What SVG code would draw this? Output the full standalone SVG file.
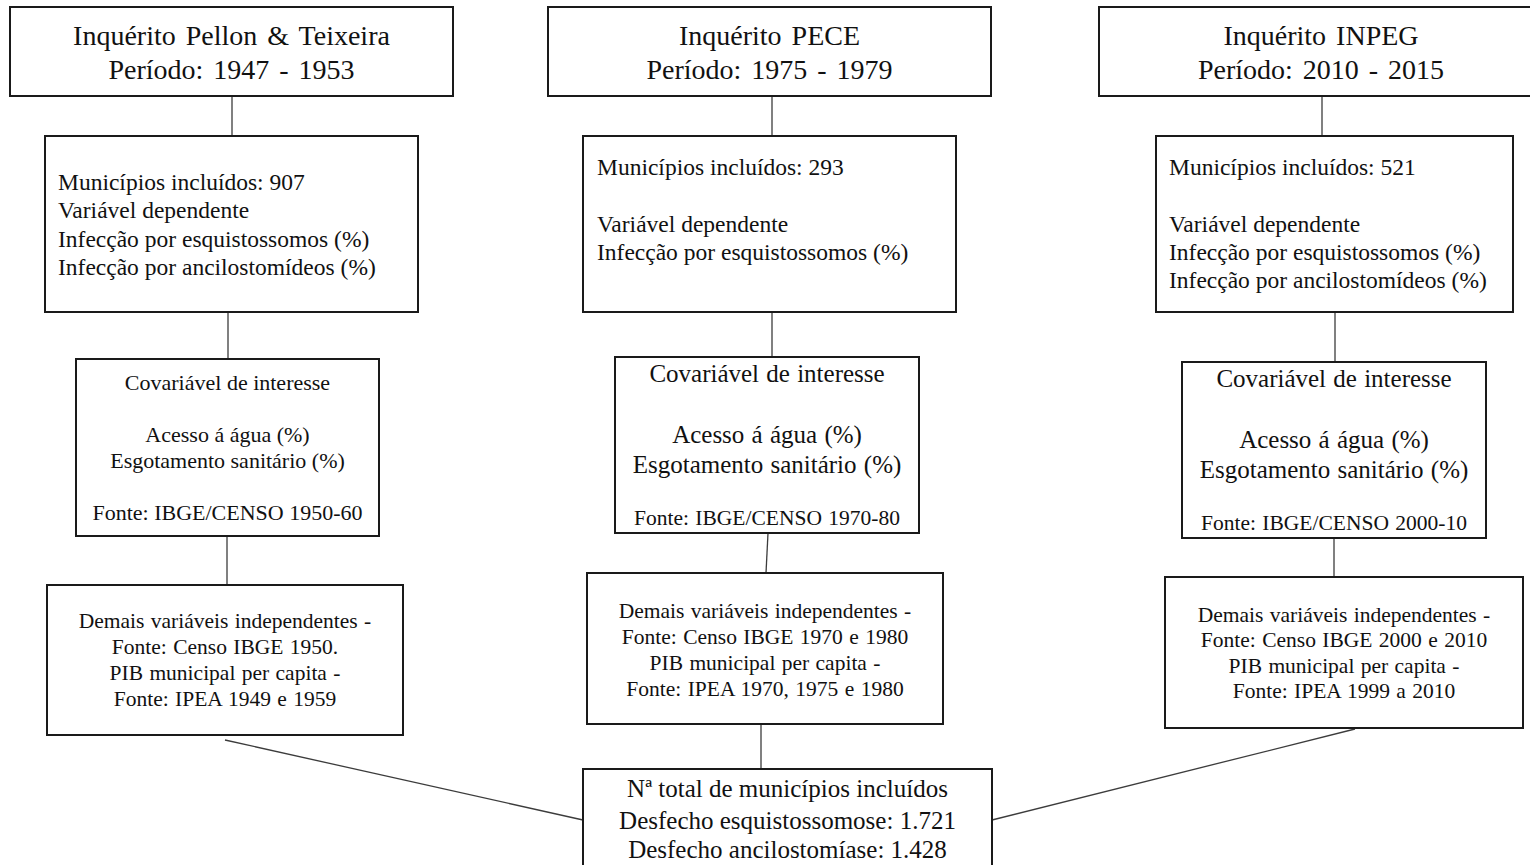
<svg xmlns="http://www.w3.org/2000/svg" width="1530" height="865" viewBox="0 0 1530 865">
  <style>
    .box { fill: #ffffff; stroke: #1a1a1a; stroke-width: 2; }
    .link { stroke: #3c3c3c; stroke-width: 1.3; fill: none; }
    text { font-family: "Liberation Serif", "Times New Roman", serif; fill: #111111; }
    .title { font-size: 28px; text-anchor: middle; word-spacing: 3px; }
    .dep { font-size: 23.5px; }
    .cov1 { font-size: 22px; text-anchor: middle; }
    .cov { font-size: 25px; text-anchor: middle; word-spacing: 1px; }
    .ind { font-size: 21.5px; text-anchor: middle; word-spacing: 1px; }
    .total { font-size: 25px; text-anchor: middle; }
  </style>
  <rect width="1530" height="865" fill="#ffffff"/>

  <!-- connectors -->
  <g id="connectors">
    <line class="link" x1="232" y1="96" x2="232" y2="136"/>
    <line class="link" x1="228" y1="312" x2="228" y2="359"/>
    <line class="link" x1="227" y1="536" x2="227" y2="585"/>
    <line class="link" x1="772" y1="96" x2="772" y2="136"/>
    <line class="link" x1="772" y1="312" x2="772" y2="357"/>
    <line class="link" x1="768" y1="533" x2="766" y2="573"/>
    <line class="link" x1="1322" y1="96" x2="1322" y2="136"/>
    <line class="link" x1="1335" y1="312" x2="1335" y2="362"/>
    <line class="link" x1="1334" y1="538" x2="1334" y2="577"/>
    <line class="link" x1="761" y1="724" x2="761" y2="769"/>
    <line class="link" x1="225" y1="740" x2="583" y2="820"/>
    <line class="link" x1="1355" y1="729" x2="992" y2="820"/>
  </g>

  <!-- survey 1: Pellon & Teixeira -->
  <g id="survey-pellon">
    <rect class="box" x="10" y="7" width="443" height="89"/>
    <text class="title" x="231.5" y="45">Inquérito Pellon &amp; Teixeira</text>
    <text class="title" x="231.5" y="79">Período: 1947 - 1953</text>
  </g>
  <g id="dep-pellon">
    <rect class="box" x="45" y="136" width="373" height="176"/>
    <text class="dep" x="58" y="190">Municípios incluídos: 907</text>
    <text class="dep" x="58" y="218">Variável dependente</text>
    <text class="dep" x="58" y="247">Infecção por esquistossomos (%)</text>
    <text class="dep" x="58" y="275">Infecção por ancilostomídeos (%)</text>
  </g>
  <g id="cov-pellon">
    <rect class="box" x="76" y="359" width="303" height="177"/>
    <text class="cov1" x="227.5" y="390">Covariável de interesse</text>
    <text class="cov1" x="227.5" y="442">Acesso á água (%)</text>
    <text class="cov1" x="227.5" y="468">Esgotamento sanitário (%)</text>
    <text class="cov1" x="227.5" y="520">Fonte: IBGE/CENSO 1950-60</text>
  </g>
  <g id="ind-pellon">
    <rect class="box" x="47" y="585" width="356" height="150"/>
    <text class="ind" x="225" y="628">Demais variáveis independentes -</text>
    <text class="ind" x="225" y="654">Fonte: Censo IBGE 1950.</text>
    <text class="ind" x="225" y="680">PIB municipal per capita -</text>
    <text class="ind" x="225" y="706">Fonte: IPEA 1949 e 1959</text>
  </g>

  <!-- survey 2: PECE -->
  <g id="survey-pece">
    <rect class="box" x="548" y="7" width="443" height="89"/>
    <text class="title" x="769.5" y="45">Inquérito PECE</text>
    <text class="title" x="769.5" y="79">Período: 1975 - 1979</text>
  </g>
  <g id="dep-pece">
    <rect class="box" x="583" y="136" width="373" height="176"/>
    <text class="dep" x="597" y="175">Municípios incluídos: 293</text>
    <text class="dep" x="597" y="232">Variável dependente</text>
    <text class="dep" x="597" y="260">Infecção por esquistossomos (%)</text>
  </g>
  <g id="cov-pece">
    <rect class="box" x="615" y="357" width="304" height="176"/>
    <text class="cov" x="767" y="382">Covariável de interesse</text>
    <text class="cov" x="767" y="443">Acesso á água (%)</text>
    <text class="cov" x="767" y="473">Esgotamento sanitário (%)</text>
    <text class="ind" x="767" y="525">Fonte: IBGE/CENSO 1970-80</text>
  </g>
  <g id="ind-pece">
    <rect class="box" x="587" y="573" width="356" height="151"/>
    <text class="ind" x="765" y="618">Demais variáveis independentes -</text>
    <text class="ind" x="765" y="644">Fonte: Censo IBGE 1970 e 1980</text>
    <text class="ind" x="765" y="670">PIB municipal per capita -</text>
    <text class="ind" x="765" y="696">Fonte: IPEA 1970, 1975 e 1980</text>
  </g>

  <!-- survey 3: INPEG -->
  <g id="survey-inpeg">
    <rect class="box" x="1099" y="7" width="444" height="89"/>
    <text class="title" x="1321" y="45">Inquérito INPEG</text>
    <text class="title" x="1321" y="79">Período: 2010 - 2015</text>
  </g>
  <g id="dep-inpeg">
    <rect class="box" x="1156" y="136" width="357" height="176"/>
    <text class="dep" x="1169" y="175">Municípios incluídos: 521</text>
    <text class="dep" x="1169" y="232">Variável dependente</text>
    <text class="dep" x="1169" y="260">Infecção por esquistossomos (%)</text>
    <text class="dep" x="1169" y="288">Infecção por ancilostomídeos (%)</text>
  </g>
  <g id="cov-inpeg">
    <rect class="box" x="1182" y="362" width="304" height="176"/>
    <text class="cov" x="1334" y="387">Covariável de interesse</text>
    <text class="cov" x="1334" y="448">Acesso á água (%)</text>
    <text class="cov" x="1334" y="478">Esgotamento sanitário (%)</text>
    <text class="ind" x="1334" y="530">Fonte: IBGE/CENSO 2000-10</text>
  </g>
  <g id="ind-inpeg">
    <rect class="box" x="1165" y="577" width="358" height="151"/>
    <text class="ind" x="1344" y="622">Demais variáveis independentes -</text>
    <text class="ind" x="1344" y="647">Fonte: Censo IBGE 2000 e 2010</text>
    <text class="ind" x="1344" y="673">PIB municipal per capita -</text>
    <text class="ind" x="1344" y="698">Fonte: IPEA 1999 a 2010</text>
  </g>

  <!-- pooled total -->
  <g id="total">
    <rect class="box" x="583" y="769" width="409" height="110"/>
    <text class="total" x="787.5" y="797">Nª total de municípios incluídos</text>
    <text class="total" x="787.5" y="829">Desfecho esquistossomose: 1.721</text>
    <text class="total" x="787.5" y="858">Desfecho ancilostomíase: 1.428</text>
  </g>
</svg>
